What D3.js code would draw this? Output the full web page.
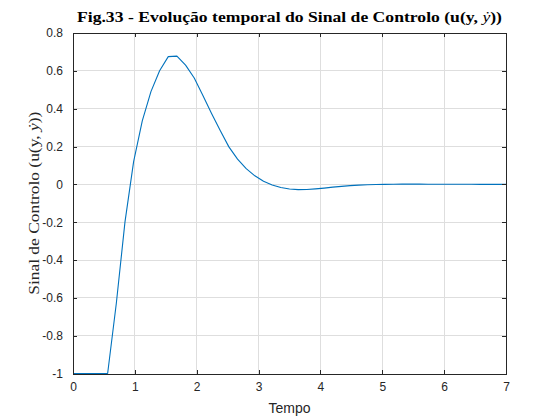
<!DOCTYPE html>
<html>
<head>
<meta charset="utf-8">
<script src="https://cdn.jsdelivr.net/npm/d3@7"></script>
<style>
  body { margin: 0; background: #fff; }
  svg { display: block; }
</style>
</head>
<body>
<svg id="chart" width="560" height="420"></svg>
<script>
// ---- data ----
const time = [0,0.14,0.28,0.42,0.56,0.70,0.84,0.98,1.12,1.26,1.40,1.54,1.68,1.82,1.96,2.10,2.24,2.38,2.52,2.66,2.80,2.94,3.08,3.22,3.36,3.50,3.64,3.78,3.92,4.06,4.20,4.34,4.48,4.62,4.76,4.90,5.04,5.18,5.32,5.46,5.60,5.74,5.88,6.02,6.16,6.30,6.44,6.58,6.72,6.86,7.00];
const signal = [-1,-1,-1,-1,-1,-0.63,-0.20,0.12,0.335,0.49,0.60,0.675,0.678,0.63,0.562,0.47,0.375,0.285,0.198,0.133,0.083,0.045,0.016,-0.003,-0.017,-0.025,-0.028,-0.027,-0.024,-0.02,-0.015,-0.011,-0.007,-0.004,-0.002,-0.001,0,0.0005,0.001,0.001,0.001,0.0008,0.0006,0.0004,0.0003,0.0002,0.0001,0,0,0,0];
const xTicks = [0,1,2,3,4,5,6,7];
const yTicks = [-1,-0.8,-0.6,-0.4,-0.2,0,0.2,0.4,0.6,0.8];
const titleText = "Fig.33 - Evolução temporal do Sinal de Controlo (u(y, ";
const yLabelText = "Sinal de Controlo (u(y, ";
const xLabelText = "Tempo";

// ---- layout ----
const svg = d3.select("#chart");
const L = 73, R = 506, T = 33, B = 373.5;
const x = d3.scaleLinear().domain([0, 7]).range([L, R]);
const y = d3.scaleLinear().domain([-1, 0.8]).range([B, T]);
const axisColor = "#262626";
const gridColor = "#dedede";
const tickFont = "'Liberation Sans', Arial, sans-serif";
const serifFont = "'Liberation Serif', 'DejaVu Serif', serif";

// grid
const grid = svg.append("g");
grid.selectAll("line.gx").data(xTicks.slice(1, -1)).join("line")
  .attr("x1", d => x(d)).attr("x2", d => x(d)).attr("y1", T).attr("y2", B)
  .attr("stroke", gridColor).attr("stroke-width", 1).attr("shape-rendering", "crispEdges");
grid.selectAll("line.gy").data(yTicks.slice(1, -1)).join("line")
  .attr("y1", d => y(d)).attr("y2", d => y(d)).attr("x1", L).attr("x2", R)
  .attr("stroke", gridColor).attr("stroke-width", 1).attr("shape-rendering", "crispEdges");

// line
const line = d3.line().x((d, i) => x(time[i])).y(d => y(d));
svg.append("path").datum(signal)
  .attr("d", line)
  .attr("fill", "none")
  .attr("stroke", "#0072BD")
  .attr("stroke-width", 1.1)
  .attr("stroke-linejoin", "round");

// axes (inner ticks) with D3 axis generators
const tl = 4;
const fmt = d => String(Math.round(d * 10) / 10);
const bottomAxis = d3.axisBottom(x).tickValues(xTicks).tickSize(-tl).tickPadding(9).tickFormat(fmt);
const topAxis = d3.axisTop(x).tickValues(xTicks).tickSize(-tl).tickFormat("");
const leftAxis = d3.axisLeft(y).tickValues(yTicks).tickSize(-tl).tickPadding(10).tickFormat(fmt);
const rightAxis = d3.axisRight(y).tickValues(yTicks).tickSize(-tl).tickFormat("");

function style(g) {
  g.select(".domain").attr("stroke", axisColor).attr("stroke-width", 1).attr("shape-rendering", "crispEdges");
  g.selectAll(".tick line").attr("stroke", axisColor).attr("shape-rendering", "crispEdges");
  g.selectAll(".tick text").attr("fill", axisColor).attr("font-family", tickFont).attr("font-size", 12);
  g.attr("font-family", tickFont);
}
svg.append("g").attr("transform", `translate(0,${B})`).call(bottomAxis.tickSizeOuter(0)).call(style);
svg.append("g").attr("transform", `translate(0,${T})`).call(topAxis.tickSizeOuter(0)).call(style);
svg.append("g").attr("transform", `translate(${L},0)`).call(leftAxis.tickSizeOuter(0)).call(style);
svg.append("g").attr("transform", `translate(${R},0)`).call(rightAxis.tickSizeOuter(0)).call(style);

// x label
svg.append("text")
  .attr("x", (L + R) / 2).attr("y", 413)
  .attr("text-anchor", "middle")
  .attr("font-family", tickFont).attr("font-size", 14).attr("fill", axisColor)
  .text(xLabelText);

// y label (serif, LaTeX-like)
const yl = svg.append("text")
  .attr("transform", `translate(38.5,${(T + B) / 2}) rotate(-90)`)
  .attr("text-anchor", "middle")
  .attr("font-family", serifFont).attr("font-size", 14)
  .attr("fill", axisColor)
  .attr("textLength", 183).attr("lengthAdjust", "spacingAndGlyphs");
yl.append("tspan").text(yLabelText);
yl.append("tspan").attr("font-style", "italic").text("ẏ");
yl.append("tspan").text("))");

// title (bold serif)
const tt = svg.append("text")
  .attr("x", (L + R) / 2).attr("y", 21.5)
  .attr("text-anchor", "middle")
  .attr("font-family", serifFont).attr("font-weight", "bold")
  .attr("font-size", 14).attr("fill", "#000")
  .attr("textLength", 425).attr("lengthAdjust", "spacingAndGlyphs");
tt.append("tspan").text(titleText);
tt.append("tspan").attr("font-style", "italic").attr("font-weight", "normal").text("ẏ");
tt.append("tspan").text("))");
</script>
</body>
</html>
